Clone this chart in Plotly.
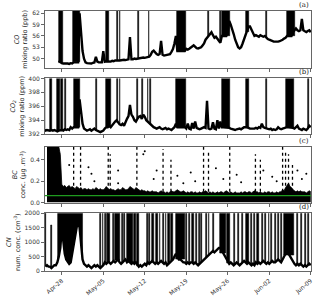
import numpy as np
import pandas as pd
import plotly.graph_objects as go

# ---------------- data (6-hourly samples) ----------------
start = "2018-04-25 00:00"
N = None
co_days = [
    [N, N, N, N], [N, N, N, N], [N, N, 49.5, 49.0], [48.8, 48.7, 48.6, 48.7],
    [48.7, 48.6, 48.8, 48.7], [49.0, 49.0, 49.0, 49.0], [62.0, 56.0, 52.0, 50.0],
    [49.0, 48.8, 48.7, 48.8], [48.7, 48.9, 49.0, 50.5], [49.2, 49.0, 48.9, 49.0],
    [52.0, 49.2, 49.3, 49.2], [49.3, 49.2, 49.4, 49.3], [49.5, 49.6, 49.5, 49.5],
    [49.6, 49.5, 49.7, 49.6], [49.7, 49.8, 55.7, 49.8], [49.8, 50.0, 49.9, 50.0],
    [50.0, 50.2, 50.1, 50.3], [50.2, 50.3, 50.4, 50.5], [51.0, 51.8, 52.1, 51.5],
    [51.2, 51.0, 51.2, 54.7], [51.0, 50.8, 50.9, 50.8], [50.9, 51.2, 51.8, 52.5],
    [54.0, 56.0, 52.0, 52.0], [52.0, 52.0, 52.0, 52.0], [52.6, 52.4, 52.6, 52.8],
    [53.2, 53.5, 53.0, 52.8], [52.7, 52.8, 53.0, 53.5], [54.0, 55.0, 55.5, 56.0],
    [56.5, 57.0, 56.2, 55.5], [55.8, 55.2, 54.5, 54.2], [56.0, 56.0, 56.0, 56.0],
    [57.0, 60.0, 59.0, 58.0], [56.5, 55.0, 54.0, 53.0], [52.7, 53.0, 54.0, 55.0],
    [56.0, 57.0, 58.5, 58.5], [57.5, 56.5, 56.0, 56.2], [56.0, 55.8, 56.2, 56.0],
    [55.8, 56.0, 55.5, 55.2], [55.0, 54.8, 54.7, 54.5], [54.5, 54.4, 54.5, 54.6],
    [54.7, 55.0, 55.3, 55.5], [56.0, 56.0, 56.0, 56.0], [57.0, 57.5, 58.0, 57.5],
    [57.3, 57.5, 60.5, 57.5], [57.2, 57.0, 57.3, 57.5], [57.0],
]
co_spike_start = ["2018-04-27 12:00", "2018-04-29 22:00", "2018-05-05 12:00", "2018-05-07 09:00",
                  "2018-05-07 18:00", "2018-05-10 21:00", "2018-05-12 16:00", "2018-05-17 10:00",
                  "2018-05-22 16:00", "2018-05-24 18:00", "2018-05-25 00:00", "2018-05-29 00:00",
                  "2018-06-01 12:00", "2018-06-04 22:00"]
co_spike_end = ["2018-04-28 05:00", "2018-05-01 00:00", "2018-05-06 00:00", "2018-05-07 12:00",
                "2018-05-07 21:00", "2018-05-11 00:00", "2018-05-12 19:00", "2018-05-18 22:00",
                "2018-05-22 20:00", "2018-05-24 21:00", "2018-05-26 07:00", "2018-05-29 12:00",
                "2018-06-01 15:00", "2018-06-06 10:00"]

co2_days = [
    [392.6, 392.5, 392.6, 392.5], [392.5, 392.6, 392.5, 392.6], [392.5, 392.4, 392.5, 392.6],
    [392.6, 392.5, 392.7, 392.6], [392.7, 392.6, 393.0, 392.8], [393.0, 393.0, 393.0, 393.0],
    [397.0, 395.0, 393.5, 392.8], [392.6, 392.5, 392.6, 392.7], [392.5, 392.6, 392.8, 392.6],
    [392.5, 392.4, 392.3, 392.4], [392.5, 392.8, 393.0, 393.0], [393.2, 393.0, 393.3, 393.5],
    [393.8, 394.0, 393.6, 393.4], [393.3, 393.5, 393.2, 393.8], [394.2, 394.6, 396.2, 394.8],
    [394.5, 394.0, 393.8, 394.2], [394.5, 394.6, 394.2, 394.8], [394.5, 394.0, 393.8, 393.5],
    [393.4, 393.2, 393.0, 392.9], [392.8, 392.9, 393.0, 392.8], [392.7, 392.8, 392.9, 392.7],
    [392.8, 392.7, 392.6, 392.8], [393.0, 393.5, 393.0, 393.0], [393.0, 393.0, 393.0, 393.0],
    [392.8, 393.5, 392.8, 392.7], [393.6, 392.8, 393.8, 392.9], [392.8, 392.7, 392.8, 392.9],
    [393.0, 392.9, 396.8, 392.8], [392.7, 392.8, 393.7, 392.8], [392.7, 394.0, 392.8, 393.8],
    [393.0, 393.0, 393.0, 393.0], [393.0, 392.9, 392.8, 392.7], [392.7, 392.6, 392.7, 392.8],
    [392.8, 392.7, 392.9, 393.0], [393.0, 393.0, 392.9, 392.8], [392.8, 392.7, 392.8, 392.9],
    [392.8, 393.0, 392.9, 393.5], [393.0, 392.9, 392.8, 392.7], [392.7, 392.8, 392.6, 392.7],
    [392.6, 392.7, 393.0, 392.8], [392.7, 392.8, 392.9, 393.0], [393.0, 393.0, 393.0, 393.0],
    [392.9, 392.8, 393.0, 393.2], [392.8, 392.7, 392.6, 392.8], [392.7, 392.6, 392.8, 393.2],
    [393.0],
]
co2_spike_start = ["2018-04-25 03:00", "2018-04-26 00:00", "2018-04-27 06:00", "2018-04-27 21:00",
                   "2018-04-28 12:00", "2018-04-30 00:00", "2018-05-03 18:00", "2018-05-05 12:00",
                   "2018-05-07 09:00", "2018-05-07 18:00", "2018-05-10 18:00", "2018-05-11 12:00",
                   "2018-05-12 12:00", "2018-05-12 21:00", "2018-05-17 06:00", "2018-05-25 00:00",
                   "2018-05-29 00:00", "2018-06-01 12:00", "2018-06-04 18:00", "2018-06-08 12:00"]
co2_spike_end = ["2018-04-25 06:00", "2018-04-26 09:00", "2018-04-27 18:00", "2018-04-28 06:00",
                 "2018-04-28 15:00", "2018-05-01 00:00", "2018-05-03 21:00", "2018-05-06 06:00",
                 "2018-05-07 12:00", "2018-05-07 21:00", "2018-05-10 21:00", "2018-05-11 15:00",
                 "2018-05-12 15:00", "2018-05-13 00:00", "2018-05-18 22:00", "2018-05-26 09:00",
                 "2018-05-29 12:00", "2018-06-01 15:00", "2018-06-06 06:00", "2018-06-08 18:00"]

bc_days = [
    [N, N, 0.52, 0.52], [0.52, 0.52, 0.52, 0.52], [0.52, 0.52, 0.52, 0.45], [0.17, 0.15, 0.16, 0.14],
    [0.15, 0.16, 0.14, 0.15], [0.14, 0.13, 0.15, 0.14], [0.13, 0.14, 0.12, 0.13], [0.13, 0.12, 0.13, 0.12],
    [0.12, 0.13, 0.12, 0.14], [0.13, 0.12, 0.13, 0.12], [0.12, 0.13, 0.15, 0.13], [0.12, 0.13, 0.12, 0.12],
    [0.11, 0.12, 0.13, 0.12], [0.12, 0.14, 0.13, 0.12], [0.12, 0.13, 0.15, 0.14], [0.13, 0.12, 0.14, 0.13],
    [0.12, 0.11, 0.12, 0.11], [0.11, 0.10, 0.11, 0.10], [0.10, 0.11, 0.10, 0.10], [0.10, 0.09, 0.10, 0.11],
    [0.10, 0.10, 0.09, 0.10], [0.09, 0.10, 0.11, 0.10], [0.10, 0.11, 0.12, 0.11], [0.10, 0.10, 0.11, 0.10],
    [0.09, 0.10, 0.09, 0.10], [0.10, 0.09, 0.10, 0.09], [0.09, 0.10, 0.09, 0.10], [0.10, 0.11, 0.10, 0.09],
    [0.10, 0.09, 0.10, 0.09], [0.09, 0.10, 0.09, 0.10], [0.10, 0.09, 0.10, 0.11], [0.10, 0.09, 0.10, 0.09],
    [0.09, 0.10, 0.09, 0.09], [0.09, 0.10, 0.09, 0.10], [0.10, 0.09, 0.10, 0.10], [0.09, 0.10, 0.11, 0.10],
    [0.10, 0.09, 0.10, 0.09], [0.09, 0.10, 0.09, 0.10], [0.10, 0.09, 0.10, 0.09], [0.09, 0.10, 0.09, 0.10],
    [0.10, 0.12, 0.11, 0.14], [0.16, 0.18, 0.15, 0.14], [0.12, 0.11, 0.10, 0.11], [0.10, 0.11, 0.10, 0.10],
    [0.10, 0.09, 0.10, 0.11], [0.10],
]
bc_col_time = ["2018-04-30 00:00", "2018-05-01 04:00", "2018-05-05 20:00", "2018-05-06 04:00",
               "2018-05-10 16:00", "2018-05-15 02:00", "2018-05-16 10:00", "2018-05-21 22:00",
               "2018-05-22 18:00", "2018-05-26 08:00", "2018-05-30 16:00", "2018-05-31 12:00",
               "2018-06-04 06:00", "2018-06-04 18:00", "2018-06-05 06:00", "2018-06-05 22:00"]
bc_col_top = [0.52, 0.52, 0.52, 0.45, 0.52, 0.50, 0.40, 0.52, 0.48, 0.52, 0.45, 0.40,
              0.52, 0.48, 0.45, 0.35]
bc_pt_time = ["2018-04-29 06:00", "2018-05-02 12:00", "2018-05-03 00:00", "2018-05-03 12:00",
              "2018-05-07 12:00", "2018-05-07 12:00", "2018-05-11 18:00", "2018-05-12 00:00",
              "2018-05-13 12:00", "2018-05-14 00:00", "2018-05-17 12:00", "2018-05-18 12:00",
              "2018-05-19 18:00", "2018-05-20 12:00", "2018-05-24 00:00", "2018-05-25 06:00",
              "2018-05-27 12:00", "2018-05-28 06:00", "2018-06-01 00:00", "2018-06-02 12:00",
              "2018-06-03 06:00", "2018-06-06 18:00", "2018-06-07 12:00", "2018-06-08 06:00"]
bc_pt_val = [0.35, 0.33, 0.27, 0.20, 0.30, 0.18, 0.45, 0.48, 0.22, 0.30, 0.25, 0.18,
             0.28, 0.20, 0.32, 0.22, 0.26, 0.19, 0.30, 0.24, 0.20, 0.30, 0.22, 0.27]
bc_ref = 0.065

cn_days = [
    [N, 150, 200, 150], [150, 100, 150, 200], [200, 300, 500, 800], [1500, 1000, 600, 400],
    [300, 250, 300, 600], [900, 1200, 1500, 1800], [1500, 800, 400, 250], [200, 150, 200, 150],
    [100, 150, 200, 150], [200, 150, 100, 150], [200, 300, 250, 300], [300, 250, 300, 350],
    [300, 350, 400, 300], [250, 300, 350, 400], [300, 350, 300, 250], [300, 250, 300, 200],
    [150, 200, 150, 200], [250, 200, 300, 250], [300, 350, 300, 250], [300, 250, 300, 350],
    [300, 250, 300, 200], [250, 300, 350, 400], [500, 600, 500, 400], [400, 350, 300, 300],
    [250, 300, 250, 300], [300, 250, 300, 250], [200, 250, 300, 350], [400, 450, 500, 550],
    [600, 650, 700, 650], [700, 750, 800, 800], [700, 600, 500, 400], [300, 250, 300, 250],
    [200, 250, 300, 250], [200, 250, 300, 350], [300, 250, 300, 250], [200, 250, 200, 300],
    [250, 300, 250, 300], [350, 300, 250, 300], [250, 300, 350, 300], [300, 350, 400, 350],
    [300, 400, 500, 600], [700, 600, 500, 400], [300, 250, 200, 250], [200, 250, 200, 150],
    [200, 150, 200, 250], [200],
]
# dense cloud (from the baseline up to the top of the axis)
cn_cloud_start = "2018-04-27 06:00"
cn_cloud_end = "2018-05-01 12:00"
cn_spike_start = ["2018-04-25 06:00", "2018-04-26 06:00",
                  "2018-05-04 12:00", "2018-05-04 21:00", "2018-05-05 06:00", "2018-05-05 15:00",
                  "2018-05-05 21:00", "2018-05-06 15:00", "2018-05-07 00:00", "2018-05-08 03:00",
                  "2018-05-08 12:00", "2018-05-09 00:00", "2018-05-10 06:00", "2018-05-10 18:00",
                  "2018-05-12 09:00", "2018-05-12 18:00", "2018-05-13 06:00", "2018-05-13 21:00",
                  "2018-05-14 12:00", "2018-05-15 00:00", "2018-05-15 12:00", "2018-05-16 00:00",
                  "2018-05-16 12:00", "2018-05-17 06:00", "2018-05-19 00:00", "2018-05-19 12:00",
                  "2018-05-20 00:00", "2018-05-20 15:00", "2018-05-21 03:00", "2018-05-21 12:00",
                  "2018-05-22 09:00", "2018-05-22 18:00", "2018-05-23 12:00", "2018-05-24 18:00",
                  "2018-05-25 21:00", "2018-05-27 00:00", "2018-05-27 18:00", "2018-05-28 09:00",
                  "2018-05-29 00:00", "2018-05-30 00:00", "2018-05-30 12:00", "2018-05-31 00:00",
                  "2018-05-31 18:00", "2018-06-01 06:00", "2018-06-01 21:00", "2018-06-02 09:00",
                  "2018-06-03 00:00", "2018-06-03 12:00", "2018-06-04 00:00", "2018-06-04 12:00",
                  "2018-06-06 18:00", "2018-06-07 09:00", "2018-06-08 00:00", "2018-06-08 12:00"]
cn_spike_end = ["2018-04-25 09:00", "2018-04-26 09:00",
                "2018-05-04 15:00", "2018-05-05 00:00", "2018-05-05 09:00", "2018-05-05 18:00",
                "2018-05-06 03:00", "2018-05-06 18:00", "2018-05-07 18:00", "2018-05-08 06:00",
                "2018-05-08 15:00", "2018-05-10 00:00", "2018-05-10 12:00", "2018-05-11 00:00",
                "2018-05-12 12:00", "2018-05-12 21:00", "2018-05-13 15:00", "2018-05-14 06:00",
                "2018-05-14 15:00", "2018-05-15 06:00", "2018-05-15 15:00", "2018-05-16 06:00",
                "2018-05-16 18:00", "2018-05-18 18:00", "2018-05-19 03:00", "2018-05-19 15:00",
                "2018-05-20 06:00", "2018-05-20 18:00", "2018-05-21 06:00", "2018-05-21 15:00",
                "2018-05-22 12:00", "2018-05-22 21:00", "2018-05-23 15:00", "2018-05-25 18:00",
                "2018-05-26 09:00", "2018-05-27 06:00", "2018-05-27 21:00", "2018-05-28 12:00",
                "2018-05-29 12:00", "2018-05-30 03:00", "2018-05-30 15:00", "2018-05-31 06:00",
                "2018-05-31 21:00", "2018-06-01 12:00", "2018-06-02 00:00", "2018-06-02 12:00",
                "2018-06-03 03:00", "2018-06-03 15:00", "2018-06-04 03:00", "2018-06-06 06:00",
                "2018-06-06 21:00", "2018-06-07 12:00", "2018-06-08 03:00", "2018-06-08 15:00"]
cn_spike_top = [2100, 1600] + [2100] * (len(cn_spike_start) - 2)

tick_dates = ["2018-04-28", "2018-05-05", "2018-05-12", "2018-05-19", "2018-05-26",
              "2018-06-02", "2018-06-09"]
tick_labels = ["Apr-28", "May-05", "May-12", "May-19", "May-26", "Jun-02", "Jun-09"]

# ---------------- figure ----------------
def flat(days):
    return [v for d in days for v in d]

def times_for(vals):
    return pd.date_range(start, periods=len(vals), freq="6h")

fig = go.Figure()
BLACK = "#000000"

def add_series(vals, xa, ya, width=2.4):
    fig.add_trace(go.Scatter(x=times_for(vals), y=vals, mode="lines",
                             line=dict(color=BLACK, width=width), xaxis=xa, yaxis=ya,
                             showlegend=False, connectgaps=False))

def add_spikes(s, e, base_vals, top, xa, ya):
    s = pd.to_datetime(s); e = pd.to_datetime(e)
    t = times_for(base_vals)
    tn = t.astype("int64").to_numpy()
    bv = np.array([np.nan if v is None else v for v in base_vals], dtype=float)
    ok = ~np.isnan(bv)
    mid = s + (e - s) / 2
    base = np.interp(mid.astype("int64").to_numpy(), tn[ok], bv[ok])
    tops = np.array(top if np.ndim(top) else [top] * len(s), dtype=float)
    fig.add_trace(go.Bar(x=mid, y=tops - base, base=base,
                         width=((e - s).total_seconds() * 1000).tolist(),
                         marker=dict(color=BLACK, line=dict(color=BLACK, width=0.6)),
                         xaxis=xa, yaxis=ya, showlegend=False))

co = flat(co_days); co2 = flat(co2_days); bc = flat(bc_days); cn = flat(cn_days)

add_spikes(co_spike_start, co_spike_end, co, 70, "x", "y")
add_series(co, "x", "y")
add_spikes(co2_spike_start, co2_spike_end, co2, 405, "x2", "y2")
add_series(co2, "x2", "y2")

fig.add_trace(go.Scatter(x=times_for(bc), y=bc, mode="lines", fill="tozeroy",
                         fillcolor=BLACK, line=dict(color=BLACK, width=0.8),
                         xaxis="x3", yaxis="y3", showlegend=False))
cx, cy = [], []
for t, top in zip(pd.to_datetime(bc_col_time), bc_col_top):
    cx += [t, t, None]; cy += [0.1, top, None]
fig.add_trace(go.Scatter(x=cx, y=cy, mode="lines", line=dict(color=BLACK, width=1.3, dash="dot"),
                         xaxis="x3", yaxis="y3", showlegend=False))
fig.add_trace(go.Scatter(x=pd.to_datetime(bc_pt_time), y=bc_pt_val, mode="markers",
                         marker=dict(color=BLACK, size=2), xaxis="x3", yaxis="y3", showlegend=False))
fig.add_trace(go.Scatter(x=[pd.Timestamp(start), pd.Timestamp("2018-06-10")], y=[bc_ref, bc_ref],
                         mode="lines", line=dict(color="#1f9a1f", width=1.3),
                         xaxis="x3", yaxis="y3", showlegend=False))

# CN dense cloud: polygon between the baseline and the top of the axis
cn_t = times_for(cn)
win = (cn_t >= pd.Timestamp(cn_cloud_start)) & (cn_t <= pd.Timestamp(cn_cloud_end))
wt = list(cn_t[win]); wv = [v for v, w in zip(cn, win) if w]
fig.add_trace(go.Scatter(x=wt + wt[::-1], y=wv + [2100] * len(wt), mode="lines", fill="toself",
                         fillcolor=BLACK, line=dict(color=BLACK, width=0.5),
                         xaxis="x4", yaxis="y4", showlegend=False))
add_spikes(cn_spike_start, cn_spike_end, cn, cn_spike_top, "x4", "y4")
add_series(cn, "x4", "y4")

# layout
B = 26; T = 11; H = 303 - T - B
def dom(top_px, bot_px):
    return [(303 - B - bot_px) / H, (303 - B - top_px) / H]

doms = [dom(11, 69), dom(80, 137), dom(150, 207), dom(218, 277)]
xr = ["2018-04-25 04:00", "2018-06-09 01:00"]
axc = "#666666"
tf = dict(family="DejaVu Sans", size=6, color="#333333")

titles = ["<i>CO</i><br>mixing ratio (ppb)",
          "<i>CO<sub>2</sub></i><br>mixing ratio (ppm)",
          "<i>BC</i><br>conc. (μg .m<sup>-3</sup>)",
          "<i>CN</i><br>num. conc. (cm<sup>-3</sup>)"]
yranges = [[47.6, 62.6], [392, 400], [0, 0.52], [0, 2000]]
ytv = [[50, 53, 56, 59, 62], [392, 394, 396, 398, 400], [0.0, 0.2, 0.4], [0, 500, 1000, 1500, 2000]]
ytt = [["50", "53", "56", "59", "62"], ["392", "394", "396", "398", "400"],
       ["0.0", "0.2", "0.4"], ["0", "500", "1000", "1500", "2000"]]

lay = dict(width=320, height=303, margin=dict(l=45, r=6, t=T, b=B),
           plot_bgcolor="white", paper_bgcolor="white", bargap=0, barmode="overlay")
for i in range(4):
    sx = "" if i == 0 else str(i + 1)
    lay["xaxis" + sx] = dict(domain=[0, 1], anchor="y" + sx, type="date", range=xr,
                             tickvals=tick_dates, ticktext=tick_labels,
                             showticklabels=(i == 3), tickangle=-40, tickfont=tf,
                             showline=True, mirror=True, linecolor=axc, linewidth=1,
                             ticks="outside", ticklen=3, tickcolor=axc, showgrid=False,
                             zeroline=False, matches=None if i == 0 else "x")
    lay["yaxis" + sx] = dict(domain=doms[i], anchor="x" + sx, range=yranges[i],
                             tickvals=ytv[i], ticktext=ytt[i], tickfont=tf,
                             showline=True, mirror=True, linecolor=axc, linewidth=1,
                             ticks="outside", ticklen=3, tickcolor=axc, showgrid=False,
                             zeroline=False,
                             title=dict(text=titles[i], standoff=3,
                                        font=dict(family="DejaVu Sans", size=6.5, color="#222222")))
fig.update_layout(**lay)

for i, lab in enumerate(["(a)", "(b)", "(c)", "(d)"]):
    fig.add_annotation(x=1.0, y=doms[i][1], xref="paper", yref="paper", text=lab,
                       showarrow=False, xanchor="right", yanchor="bottom",
                       font=dict(family="DejaVu Serif", size=7, color="#222222"))

fig.write_html("out.html", config={"displayModeBar": False},
               post_script="document.body.style.margin='0';document.body.style.padding='0';document.body.style.overflow='hidden';")
